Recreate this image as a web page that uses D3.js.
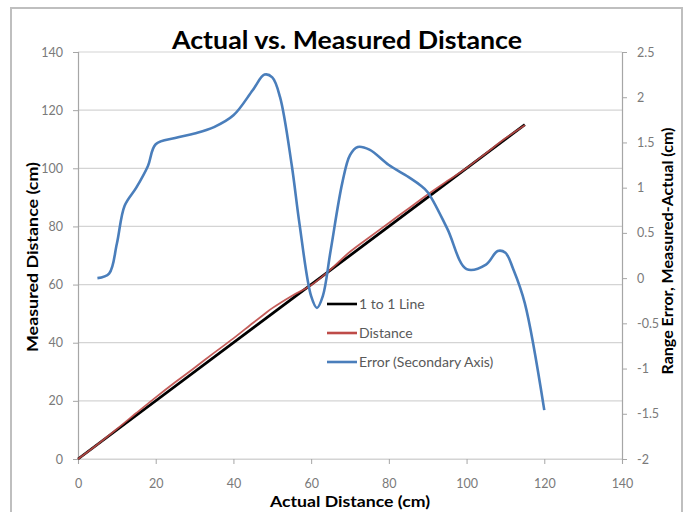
<!DOCTYPE html>
<html><head><meta charset="utf-8">
<script src="https://cdn.jsdelivr.net/npm/d3@7"></script>
<style>body{margin:0;background:#fff;} svg{display:block;}</style>
</head><body>
<script>
// ---- data ----
const xTicks = [0,20,40,60,80,100,120,140];
const yLeftTicks = [0,20,40,60,80,100,120,140];
const yRightTicks = [-2,-1.5,-1,-0.5,0,0.5,1,1.5,2,2.5];
const oneToOneX = [0,115];
const oneToOneY = [0,115];
const errorX = [5,8,10,12,15,18,20,25,30,35,40,45,48,50,52,55,57,60,61.5,63,65,68,70,72,75,80,85,88,90,95,100,105,108,110,112,115,120];
const errorY = [0,0.05,0.38,0.8,1.0,1.24,1.48,1.55,1.6,1.67,1.8,2.08,2.25,2.22,2.0,1.25,0.6,-0.2,-0.33,-0.2,0.3,1.05,1.36,1.45,1.42,1.25,1.12,1.03,0.95,0.55,0.1,0.15,0.3,0.28,0.1,-0.28,-1.46];
const distanceX = [0,5,10,15,20,25,30,35,40,45,48,50,55,60,65,70,75,80,85,90,95,100,105,110,115];
const distanceY = [0,5.0,10.3,15.8,21.2,26.4,31.4,36.5,41.5,46.8,49.9,51.9,56.1,59.8,65.2,71.3,76.3,81.2,86.1,91.0,95.6,100.1,105.2,110.3,114.8];
const legendLabels = ["1 to 1 Line","Distance","Error (Secondary Axis)"];
const legendColors = ["#000000","#be4b48","#4a7ebb"];

const W=687,H=512;
const svg=d3.select("body").append("svg").attr("width",W).attr("height",H);
const font="Lato, 'Open Sans', sans-serif";

// frame
svg.append("rect").attr("x",11).attr("y",8).attr("width",671).attr("height",510)
  .attr("fill","#fff").attr("stroke","#bfbfbf").attr("stroke-width",2);

const x=d3.scaleLinear().domain([0,140]).range([78,622]);
const yL=d3.scaleLinear().domain([0,140]).range([459,52]);
const yR=d3.scaleLinear().domain([-2,2.5]).range([459,52]);

// gridlines
svg.append("g").selectAll("line").data(yLeftTicks).join("line")
  .attr("x1",x(0)).attr("x2",x(140)).attr("y1",d=>yL(d)).attr("y2",d=>yL(d))
  .attr("stroke","#d4d4d4").attr("stroke-width",1.2);

// axes
const gx=svg.append("g").attr("transform",`translate(0,${yL(0)})`)
  .call(d3.axisBottom(x).tickValues(xTicks).tickSize(5).tickPadding(15));
const gl=svg.append("g").attr("transform",`translate(${x(0)},0)`)
  .call(d3.axisLeft(yL).tickValues(yLeftTicks).tickSize(5).tickPadding(10));
const gr=svg.append("g").attr("transform",`translate(${x(140)},0)`)
  .call(d3.axisRight(yR).tickValues(yRightTicks).tickFormat(d=>String(d)).tickSize(5).tickPadding(10));
[gx,gl,gr].forEach(g=>{
  g.select(".domain").attr("stroke","#a6a6a6").attr("stroke-width",1.2);
  g.selectAll(".tick line").attr("stroke","#a6a6a6");
  g.selectAll(".tick text").attr("fill","#7a7a7a").style("font-family",font).style("font-size","12.5px");
});
gx.select(".domain").attr("stroke","#d4d4d4");

// lines
const lineL=d3.line().x(d=>x(d[0])).y(d=>yL(d[1]));
svg.append("path").datum(d3.zip(oneToOneX,oneToOneY)).attr("d",lineL)
  .attr("fill","none").attr("stroke","#000").attr("stroke-width",2.8);
svg.append("path").datum(d3.zip(distanceX,distanceY)).attr("d",lineL.curve(d3.curveCatmullRom))
  .attr("fill","none").attr("stroke","#be4b48").attr("stroke-width",1.8).attr("opacity",0.9);
const lineR=d3.line().x(d=>x(d[0])).y(d=>yR(d[1])).curve(d3.curveCatmullRom);
svg.append("path").datum(d3.zip(errorX,errorY)).attr("d",lineR)
  .attr("fill","none").attr("stroke","#4a7ebb").attr("stroke-width",2.6);

// legend
const lg=svg.append("g");
legendLabels.forEach((t,i)=>{
  const yy=304+i*29;
  lg.append("line").attr("x1",327).attr("x2",357).attr("y1",yy).attr("y2",yy)
    .attr("stroke",legendColors[i]).attr("stroke-width",2.6);
  lg.append("text").attr("x",359).attr("y",yy).attr("dy","0.35em").text(t)
    .attr("fill","#595959").style("font-family",font).style("font-size","14px");
});

// titles
const tstyle=(s,size,len)=>s.style("font-family",font).style("font-weight","bold")
  .style("font-size",size+"px").attr("fill","#000")
  .attr("textLength",len).attr("lengthAdjust","spacingAndGlyphs");
tstyle(svg.append("text").attr("x",347).attr("y",49).attr("text-anchor","middle")
  .text("Actual vs. Measured Distance"),25,350);
tstyle(svg.append("text").attr("x",350).attr("y",507).attr("text-anchor","middle")
  .text("Actual Distance (cm)"),15,160);
tstyle(svg.append("text").attr("transform","translate(38,257) rotate(-90)").attr("text-anchor","middle")
  .text("Measured Distance (cm)"),16,190);
tstyle(svg.append("text").attr("transform","translate(673,251) rotate(-90)").attr("text-anchor","middle")
  .text("Range Error, Measured-Actual (cm)"),16,247);
</script>
</body></html>
